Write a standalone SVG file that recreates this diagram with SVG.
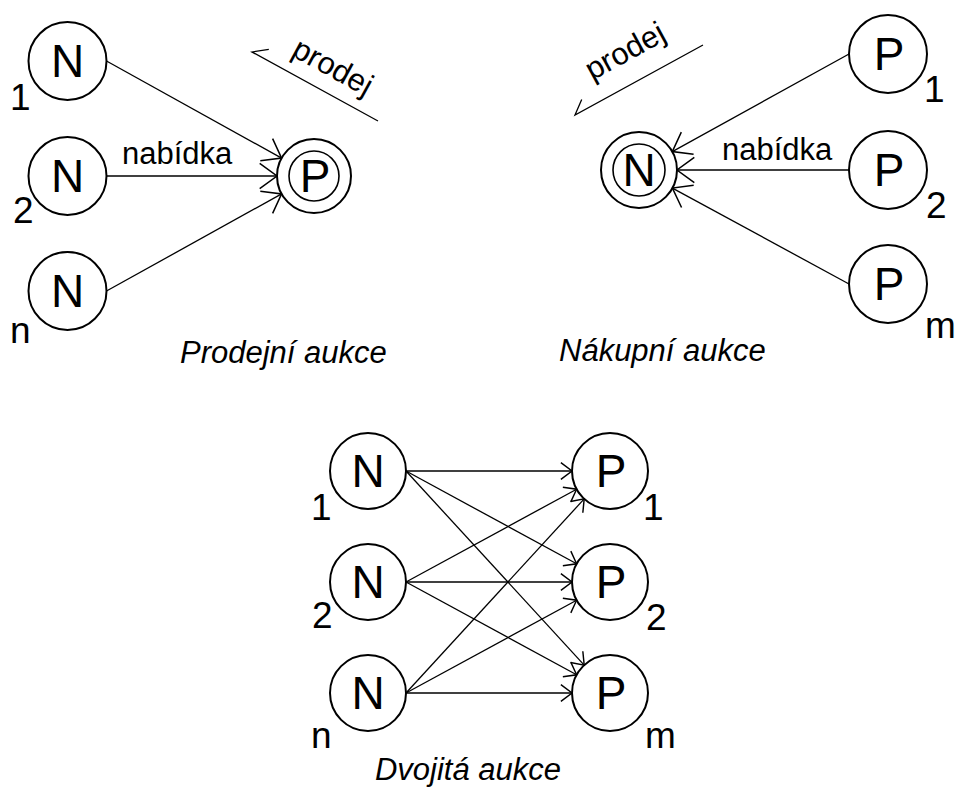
<svg xmlns="http://www.w3.org/2000/svg" width="958" height="789" viewBox="0 0 958 789">
  <style>
    text { font-family: "Liberation Sans", Arial, sans-serif; fill: #000; }
    .node { fill: #fff; stroke: #000; stroke-width: 2; }
    .inner { fill: none; stroke: #000; stroke-width: 1.6; }
    .lbl { font-size: 46px; text-anchor: middle; }
    .idx { font-size: 37px; }
    .edge { font-size: 31px; }
    .cap { font-size: 31px; font-style: italic; }
    .conn line, .conn path { stroke: #000; stroke-width: 1.3; fill: none; }
  </style>
  <defs>
    <marker id="arrowBig" markerUnits="userSpaceOnUse" markerWidth="30" markerHeight="30" refX="0" refY="0" viewBox="-16 -13 18 26" orient="auto">
      <path d="M-15,-11 L0,0 L-15,11" fill="none" stroke="#000" stroke-width="1.3"/>
    </marker>
    <marker id="arrowSmall" markerUnits="userSpaceOnUse" markerWidth="20" markerHeight="20" refX="0" refY="0" viewBox="-11 -9 13 18" orient="auto">
      <path d="M-10,-7.5 L0,0 L-10,7.5" fill="none" stroke="#000" stroke-width="1.3"/>
    </marker>
  </defs>
  <rect width="958" height="789" fill="#fff"/>

  <!-- connectors -->
  <g id="connectors" class="conn">
    <!-- selling auction: bidders to seller -->
    <line x1="106.5" y1="61" x2="281.6" y2="158.1" marker-end="url(#arrowBig)"/>
    <line x1="106.5" y1="176" x2="277" y2="176" marker-end="url(#arrowBig)"/>
    <line x1="106.5" y1="291" x2="281.6" y2="193.9" marker-end="url(#arrowBig)"/>
    <!-- sale direction -->
    <path d="M378,121 L252,52 L268.8,49.3"/>
    <!-- buying auction: sellers to buyer -->
    <line x1="849" y1="54" x2="672.3" y2="151.6" marker-end="url(#arrowBig)"/>
    <line x1="849" y1="170" x2="677" y2="170" marker-end="url(#arrowBig)"/>
    <line x1="849" y1="284" x2="672.4" y2="188.1" marker-end="url(#arrowBig)"/>
    <!-- sale direction -->
    <path d="M703,45 L575,115 L581.7,99.4"/>
    <!-- double auction: every bidder to every seller -->
    <line x1="406" y1="471" x2="572" y2="471" marker-end="url(#arrowSmall)"/>
    <line x1="406" y1="471" x2="576.6" y2="563.8" marker-end="url(#arrowSmall)"/>
    <line x1="406" y1="471" x2="584.2" y2="665.1" marker-end="url(#arrowSmall)"/>
    <line x1="406" y1="582" x2="576.6" y2="489.2" marker-end="url(#arrowSmall)"/>
    <line x1="406" y1="582" x2="572" y2="582" marker-end="url(#arrowSmall)"/>
    <line x1="406" y1="582" x2="576.6" y2="674.8" marker-end="url(#arrowSmall)"/>
    <line x1="406" y1="693" x2="584.2" y2="498.9" marker-end="url(#arrowSmall)"/>
    <line x1="406" y1="693" x2="576.6" y2="600.2" marker-end="url(#arrowSmall)"/>
    <line x1="406" y1="693" x2="572" y2="693" marker-end="url(#arrowSmall)"/>
  </g>

  <!-- edge labels -->
  <text class="edge" x="122" y="164">nabídka</text>
  <text class="edge" x="722" y="160">nabídka</text>
  <text class="edge" text-anchor="middle" transform="translate(328,76) rotate(28.7)">prodej</text>
  <text class="edge" text-anchor="middle" transform="translate(630,60) rotate(-28.7)">prodej</text>

  <!-- selling auction -->
  <g id="sell-n1"><circle class="node" cx="67.5" cy="61" r="39"/><text class="lbl" x="67.5" y="77">N</text><text class="idx" x="10" y="110">1</text></g>
  <g id="sell-n2"><circle class="node" cx="67.5" cy="176" r="39"/><text class="lbl" x="67.5" y="192">N</text><text class="idx" x="13" y="223">2</text></g>
  <g id="sell-nn"><circle class="node" cx="67.5" cy="291" r="39"/><text class="lbl" x="67.5" y="307">N</text><text class="idx" x="10" y="343">n</text></g>
  <g id="sell-p"><circle class="node" cx="314" cy="176" r="37"/><circle class="inner" cx="314" cy="176" r="25"/><text class="lbl" x="315" y="192">P</text></g>

  <!-- buying auction -->
  <g id="buy-n"><circle class="node" cx="639" cy="170" r="38"/><circle class="inner" cx="639" cy="170" r="26"/><text class="lbl" x="639" y="186">N</text></g>
  <g id="buy-p1"><circle class="node" cx="888" cy="54" r="39"/><text class="lbl" x="889" y="70">P</text><text class="idx" x="924" y="102">1</text></g>
  <g id="buy-p2"><circle class="node" cx="888" cy="170" r="39"/><text class="lbl" x="889" y="186">P</text><text class="idx" x="926" y="218">2</text></g>
  <g id="buy-pm"><circle class="node" cx="888" cy="284" r="39"/><text class="lbl" x="889" y="300">P</text><text class="idx" x="925" y="338">m</text></g>

  <!-- double auction -->
  <g id="dbl-n1"><circle class="node" cx="368" cy="471" r="38"/><text class="lbl" x="368" y="487">N</text><text class="idx" x="311" y="520">1</text></g>
  <g id="dbl-n2"><circle class="node" cx="368" cy="582" r="38"/><text class="lbl" x="368" y="598">N</text><text class="idx" x="312" y="628">2</text></g>
  <g id="dbl-nn"><circle class="node" cx="368" cy="693" r="38"/><text class="lbl" x="368" y="709">N</text><text class="idx" x="311" y="748">n</text></g>
  <g id="dbl-p1"><circle class="node" cx="610" cy="471" r="38"/><text class="lbl" x="611" y="487">P</text><text class="idx" x="643" y="520">1</text></g>
  <g id="dbl-p2"><circle class="node" cx="610" cy="582" r="38"/><text class="lbl" x="611" y="598">P</text><text class="idx" x="646" y="630">2</text></g>
  <g id="dbl-pm"><circle class="node" cx="610" cy="693" r="38"/><text class="lbl" x="611" y="709">P</text><text class="idx" x="645" y="748">m</text></g>

  <!-- captions -->
  <text class="cap" x="180" y="363">Prodejní aukce</text>
  <text class="cap" x="559" y="361">Nákupní aukce</text>
  <text class="cap" x="468" y="780" text-anchor="middle">Dvojitá aukce</text>
</svg>
